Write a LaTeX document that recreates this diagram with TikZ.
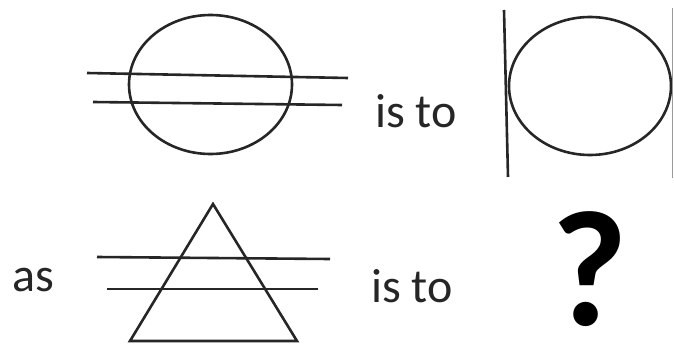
\documentclass[tikz,border=0pt]{standalone}
\usepackage{fontspec}
\setmainfont{Carlito}
\usetikzlibrary{math}

\begin{document}
\begin{tikzpicture}[x=1pt, y=-1pt]

	\tikzmath{
		\ex = 210.5;  % centre de l'ellipse barrée
		\ey = 84.5;
		\cx = 590;    % centre du cercle à droite
		\cy = 86;
	}

	\useasboundingbox (0,0) rectangle (674,345);

	\tikzset{trait/.style={
				draw=black!85,
				line width=2.6pt
			}}

	% Ligne du haut : ellipse traversée par deux droites
	\draw[trait] (\ex, \ey) ellipse [x radius=81.5pt, y radius=69.5pt];

	\coordinate (h1g) at (87, 73);
	\coordinate (h1d) at (348, 78);
	\coordinate (h2g) at (93, 102);
	\coordinate (h2d) at (342, 105);
	\draw[trait] (h1g) -- (h1d);
	\draw[trait] (h2g) -- (h2d);

	% Cercle entre deux verticales
	\draw[trait] (\cx, \cy) ellipse [x radius=81pt, y radius=69pt];

	\coordinate (v1h) at (504, 10);
	\coordinate (v1b) at (508, 177);
	\coordinate (v2h) at (672.5, 8);
	\coordinate (v2b) at (672.5, 178);
	\draw[trait] (v1h) -- (v1b);
	\draw[trait, draw=black!40, line width=1.5pt] (v2h) -- (v2b);

	% Ligne du bas : triangle traversé par deux droites
	\coordinate (sommet) at (213, 204);
	\coordinate (baseg) at (130, 341);
	\coordinate (based) at (297, 341);
	\draw[trait] (sommet) -- (based) -- (baseg) -- cycle;

	\coordinate (b1g) at (97, 257);
	\coordinate (b1d) at (330, 259);
	\coordinate (b2g) at (107, 289);
	\coordinate (b2d) at (318, 289);
	\draw[trait] (b1g) -- (b1d);
	\draw[trait] (b2g) -- (b2d);


	\tikzset{mot/.style={
				font=\fontsize{48}{48}\selectfont,
				text=black!85,
				inner sep=0pt,
				anchor=base west
			}}

	\node[mot] (isto1) at (375, 127) {is to};
	\node[mot] (as)    at (12, 291)  {as};
	\node[mot] (isto2) at (371, 302) {is to};

	\node[font=\fontsize{165}{165}\selectfont\bfseries, inner sep=0pt,
		text height=110pt, text depth=0pt, anchor=base] (question) at (590, 325) {?};

\end{tikzpicture}
\end{document}
